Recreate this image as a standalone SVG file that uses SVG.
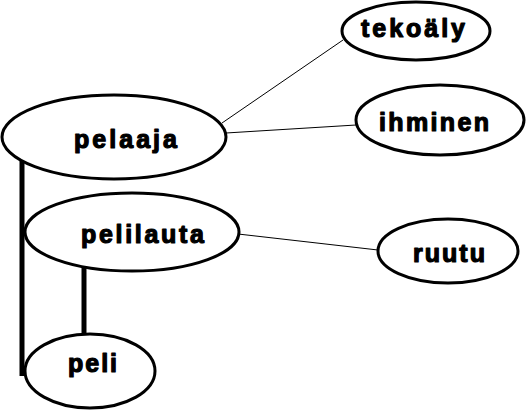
<svg xmlns="http://www.w3.org/2000/svg" width="526" height="410" viewBox="0 0 526 410">
<style>
.n ellipse{fill:#fff;stroke:#000;stroke-width:3}
.n text{font-family:"Liberation Sans",Arial,sans-serif;font-weight:bold;font-size:25px;fill:#000;stroke:#000;stroke-width:1.2;stroke-linejoin:round}
.thin{stroke:#000;stroke-width:1;fill:none}
.thick{stroke:#000;stroke-width:5;fill:none}
</style>
<rect width="526" height="410" fill="#fff"/>
<g id="connectors">
<line class="thin" x1="222" y1="123" x2="343" y2="40"/>
<line class="thin" x1="226" y1="133" x2="356" y2="125"/>
<line class="thin" x1="238" y1="234" x2="378" y2="250"/>
<line class="thick" x1="22" y1="158" x2="22" y2="376"/>
<line class="thick" x1="84" y1="266" x2="84" y2="336"/>
</g>
<g id="pelaaja" class="n"><ellipse cx="114" cy="137" rx="112" ry="42"/><text x="74" y="148" textLength="103" lengthAdjust="spacing">pelaaja</text></g>
<g id="pelilauta" class="n"><ellipse cx="132" cy="232" rx="107" ry="39"/><text x="81" y="243" textLength="123" lengthAdjust="spacing">pelilauta</text></g>
<g id="peli" class="n"><ellipse cx="90" cy="371" rx="65" ry="37"/><text x="68" y="372" textLength="49" lengthAdjust="spacing">peli</text></g>
<g id="tekoaly" class="n"><ellipse cx="416" cy="31" rx="74" ry="29"/><text x="361" y="37" textLength="104" lengthAdjust="spacing">tekoäly</text></g>
<g id="ihminen" class="n"><ellipse cx="440" cy="120" rx="84" ry="35"/><text x="379" y="131" textLength="110" lengthAdjust="spacing">ihminen</text></g>
<g id="ruutu" class="n"><ellipse cx="448" cy="251" rx="70" ry="32"/><text x="413" y="262" textLength="72" lengthAdjust="spacing">ruutu</text></g>
</svg>
